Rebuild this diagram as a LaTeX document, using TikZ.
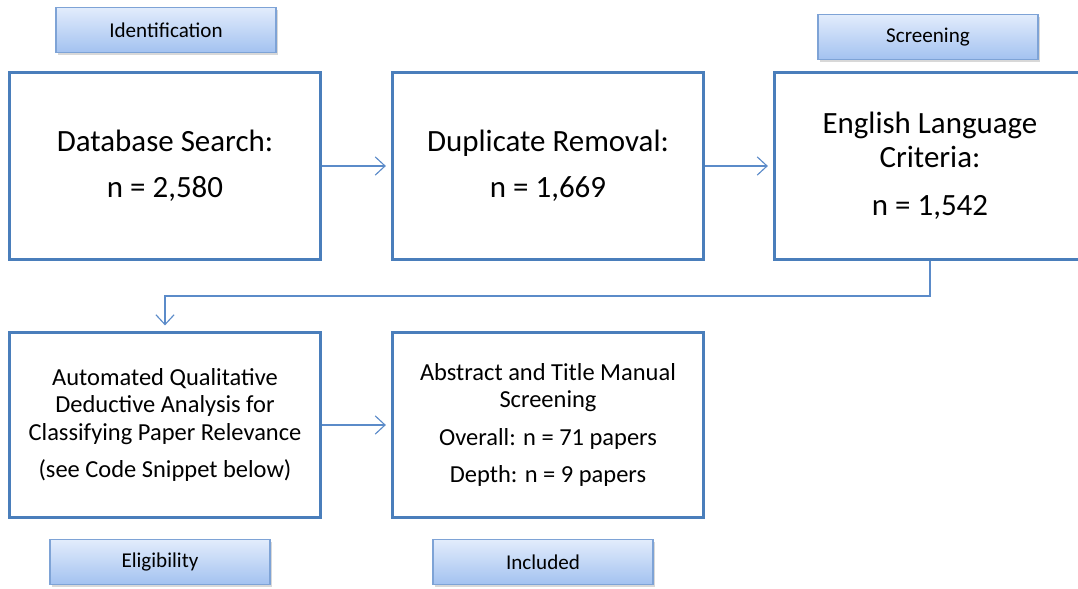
\documentclass[tikz,border=0pt]{standalone}
\usepackage{fontspec}
\setmainfont{Carlito}
\usetikzlibrary{arrows.meta,shadows}
\definecolor{boxblue}{HTML}{4A7EBB}
\definecolor{arrowblue}{HTML}{5B8BC9}
\definecolor{tabedge}{HTML}{7EA3D6}
\definecolor{tabtop}{HTML}{E2ECFC}
\definecolor{tabbot}{HTML}{A3C2F0}
\tikzset{
  stagebox/.style={draw=boxblue, line width=2.1pt, fill=white, align=center,
    minimum width=7.75cm, minimum height=4.675cm, inner sep=0pt},
  phasetab/.style={draw=tabedge, line width=0.8pt, top color=tabtop, bottom color=tabbot,
    minimum width=5.5cm, minimum height=1.12cm,
    drop shadow={shadow xshift=1.2pt, shadow yshift=-1.5pt, opacity=0.3},
    font=\fontsize{15}{17}\selectfont},
  flow/.style={draw=arrowblue, line width=0.8pt, -{Straight Barb[length=7pt,width=13pt]}, shorten >=4pt}
}
\begin{document}
\begin{tikzpicture}[x=0.025cm, y=-0.025cm]
        \useasboundingbox (0,0) rectangle (1078,589);
        \clip (0,0) rectangle (1078,589);
        \fill[white] (0,0) rectangle (1078,589);

        % 1. Phase tabs
        \node[phasetab] (ident) at (166,30) {Identification};
        \node[phasetab] (screen) at (928,37) {Screening};
        \node[phasetab] (elig) at (160,562) {Eligibility};
        \node[phasetab] (incl) at (543,562) {Included};

        % 2. Upper row
        \node[stagebox, font=\fontsize{22}{24}\selectfont] (search) at (165,166)
            {Database Search:\\[9pt] n = 2,580};
        \node[stagebox, font=\fontsize{22}{24}\selectfont] (dup) at (548,166)
            {Duplicate Removal:\\[9pt] n = 1,669};
        \node[stagebox, font=\fontsize{22}{24}\selectfont] (lang) at (930,166)
            {English Language\\ Criteria:\\[10pt] n = 1,542};

        % 3. Lower row
        \node[stagebox, minimum height=4.625cm, font=\fontsize{17.4}{19.5}\selectfont] (auto) at (165,425)
            {Automated Qualitative\\ Deductive Analysis for\\ Classifying Paper Relevance\\[7pt] (see Code Snippet below)};
        \node[stagebox, minimum height=4.625cm, font=\fontsize{17.4}{19.5}\selectfont] (manual) at (548,425)
            {Abstract and Title Manual\\ Screening\\[7pt] Overall: n = 71 papers\\[7pt] Depth: n = 9 papers};

        % 4. Connectors
        \draw[flow] (search) -- (dup);
        \draw[flow] (dup) -- (lang);
        \coordinate (turn) at (930,296);
        \draw[flow] (lang.south) -- (turn) -| (auto.north);
        \draw[flow] (auto) -- (manual);

    \end{tikzpicture}
\end{document}
